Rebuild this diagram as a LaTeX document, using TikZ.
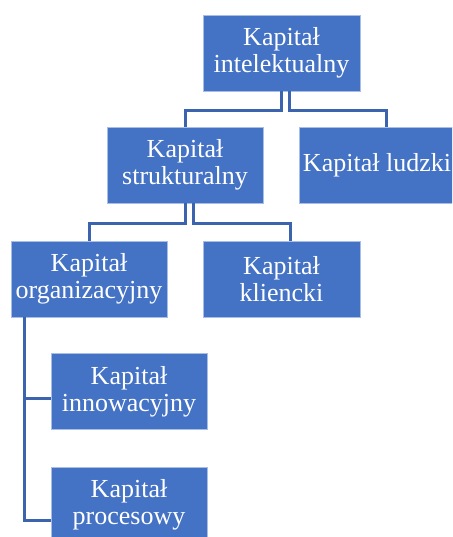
\documentclass[tikz,border=0pt]{standalone}
\usepackage{fontspec}
\setmainfont{Liberation Serif}
\usetikzlibrary{calc}
\definecolor{boxblue}{HTML}{4472C4}
\definecolor{boxedge}{HTML}{A9BEE4}
\definecolor{linkblue}{HTML}{3C64AE}
\begin{document}
\begin{tikzpicture}[x=1pt,y=-1pt,
  unit/.style={fill=boxblue,draw=boxedge,line width=0.8pt,
    minimum width=156pt,minimum height=76pt,inner sep=0pt,
    text=white,align=center,
    font=\fontsize{26}{27}\selectfont},
  link/.style={draw=linkblue,line width=3pt}]
\useasboundingbox (0,0) rectangle (452,537);
\begin{scope}
\clip (0,0) rectangle (452,537);
% hierarchy boxes
\node[unit,minimum width=157pt] (top) at (281.5,53) {Kapitał\\intelektualny};
\node[unit] (str) at (185,165) {Kapitał\\strukturalny};
\node[unit] (lud) at (377,165) {Kapitał ludzki};
\node[unit] (org) at (89,279) {Kapitał\\organizacyjny};
\node[unit,minimum width=157pt] (kli) at (281.5,279) {Kapitał\\kliencki};
\node[unit] (inn) at (129,391.5) {Kapitał\\innowacyjny};
\node[unit] (pro) at (129,505) {Kapitał\\procesowy};
% connectors, first level
\draw[link] (top.south) -- ++(0,19) -| (str.north);
\draw[link] ($(top.south)+(7.5,0)$) -- ++(0,19) -| ($(lud.north)+(9,0)$);
% connectors, second level
\draw[link] (str.south) -- ++(0,20) -| (org.north);
\draw[link] ($(str.south)+(8,0)$) -- ++(0,20) -| ($(kli.north)+(8.5,0)$);
% connectors, hanging branches
\draw[link] ($(org.south west)+(14,0)$) |- ($(inn.west)+(0,6.5)$);
\draw[link] ($(org.south west)+(14,0)$) |- ($(pro.west)+(0,15)$);
\end{scope}
\end{tikzpicture}
\end{document}
